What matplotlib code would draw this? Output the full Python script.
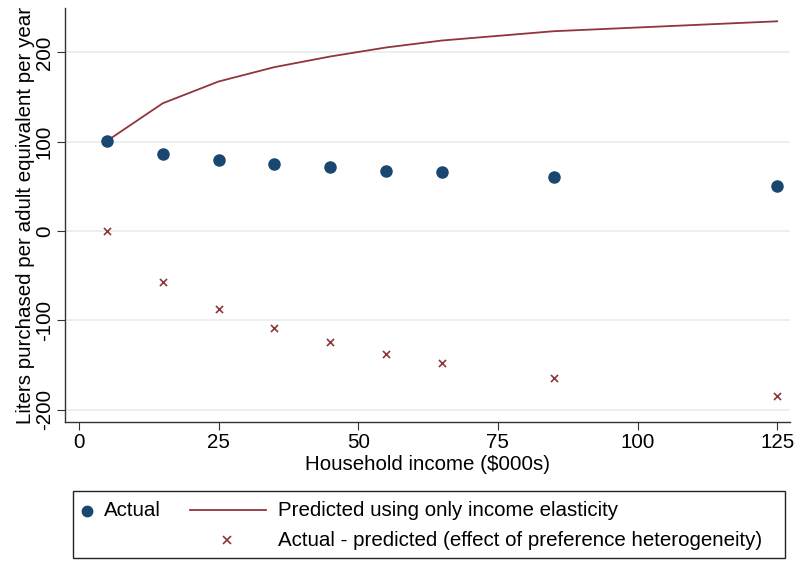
import matplotlib
matplotlib.use("Agg")
import matplotlib.pyplot as plt
from matplotlib.lines import Line2D
from matplotlib.patches import Rectangle

plt.rcParams['font.family'] = ['Liberation Sans', 'DejaVu Sans']

# data
income = [5, 15, 25, 35, 45, 55, 65, 85, 125]
actual = [100.8, 86.5, 79.4, 75.2, 71.1, 67.7, 65.5, 59.9, 50.9]
predicted = [100.8, 143.0, 167.4, 183.5, 195.4, 205.5, 213.3, 223.7, 234.8]
diff = [0.0, -57.5, -87.7, -108.6, -124.7, -137.8, -147.8, -164.2, -184.4]

xticks = [0, 25, 50, 75, 100, 125]
yticks = [-200, -100, 0, 100, 200]

navy = '#1a476f'
maroon = '#90353b'
W, H = 795, 561
fs = 14.8

fig = plt.figure(figsize=(W / 100, H / 100), dpi=100)
ax = fig.add_axes([65 / W, 1 - 422 / H, (790 - 65) / W, (422 - 8) / H])

ax.plot(income, predicted, color=maroon, lw=1.3, zorder=3)
ax.scatter(income, actual, s=64, color=navy, zorder=4)
ax.scatter(income, diff, marker='x', s=26, color=maroon, lw=1.2, zorder=4)

ax.set_xlim(-2.5, 127.3)
ax.set_ylim(-213.9, 249.7)
ax.set_xticks(xticks)
ax.set_yticks(yticks)
ax.set_yticklabels([str(v) for v in yticks], rotation=90, va='center')
ax.grid(axis='y', color='#e6eef0', lw=1.2)
ax.set_axisbelow(True)
for s in ['top', 'right']:
    ax.spines[s].set_visible(False)
for s in ['left', 'bottom']:
    ax.spines[s].set_color('#333333')
    ax.spines[s].set_linewidth(1.0)
ax.tick_params(axis='both', labelsize=fs, length=6, color='#333333', direction='out')
ax.tick_params(axis='x', pad=2)
ax.tick_params(axis='y', pad=2)
ax.set_xlabel('Household income ($000s)', fontsize=fs, labelpad=2)
ax.set_ylabel('Liters purchased per adult equivalent per year', fontsize=fs, labelpad=0)

# legend box below the plot, laid out like the Stata original
def fx(px):
    return px / W

def fy(py):
    return 1 - py / H

fig.patches.append(Rectangle((fx(73), fy(558)), fx(785) - fx(73), fy(491) - fy(558),
                             transform=fig.transFigure, fill=False, ec='#222222', lw=1.0))
fig.lines.append(Line2D([fx(87)], [fy(511)], marker='o', ms=7.5, color=navy,
                        ls='none', transform=fig.transFigure))
fig.text(fx(104), fy(511), 'Actual', fontsize=fs, va='center')
fig.lines.append(Line2D([fx(190), fx(266)], [fy(510), fy(510)], color=maroon, lw=1.3,
                        transform=fig.transFigure))
fig.text(fx(278), fy(511), 'Predicted using only income elasticity', fontsize=fs, va='center')
fig.lines.append(Line2D([fx(227)], [fy(540)], marker='x', ms=5.5, mew=1.2, color=maroon,
                        ls='none', transform=fig.transFigure))
fig.text(fx(278), fy(540), 'Actual - predicted (effect of preference heterogeneity)',
         fontsize=fs, va='center')

fig.savefig('out.png', dpi=100)
